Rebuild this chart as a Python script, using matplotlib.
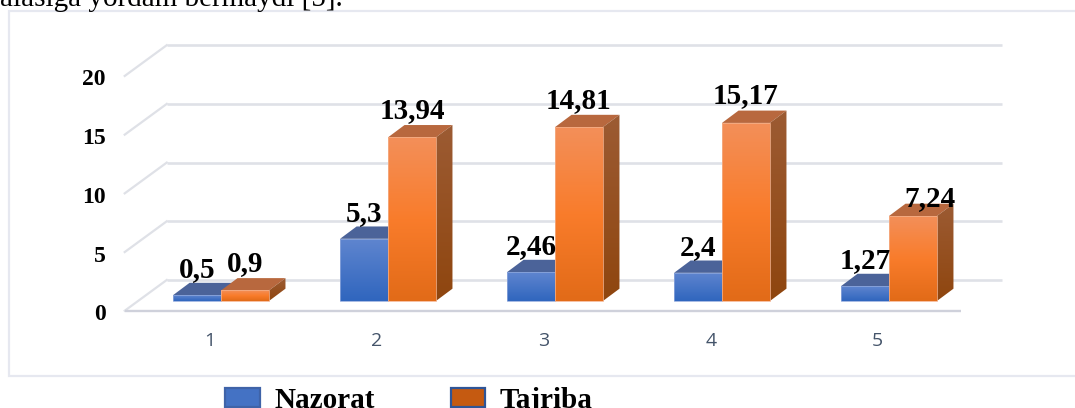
import matplotlib.pyplot as plt
import numpy as np
from matplotlib.colors import LinearSegmentedColormap
from matplotlib.patches import Patch, Polygon, Rectangle

categories = [1, 2, 3, 4, 5]
nazorat = [0.5, 5.3, 2.46, 2.4, 1.27]
tajriba = [0.9, 13.94, 14.81, 15.17, 7.24]
y_ticks = [0, 5, 10, 15, 20]
series_names = ["Nazorat", "Tajriba"]
header = "alasiga yordam bermaydi [5]."

serif = "Liberation Serif"
bar_w = 0.287
depth_x = 0.099
depth_y = 1.05
floor_front = -0.83
floor_back = 1.79

blue_front = LinearSegmentedColormap.from_list("b", ["#3066BE", "#5F85CF"])
orange_front = LinearSegmentedColormap.from_list("o", ["#E26B18", "#F97C2B", "#F38F59"])
orange_side = LinearSegmentedColormap.from_list("s", ["#8F460F", "#9C5B33"])
gradient = np.linspace(1, 0, 64).reshape(-1, 1)


def draw_face(ax, left, width, value, cmap, z):
    face = Rectangle((left, 0), width, value, fc="none", ec="none", zorder=z)
    ax.add_patch(face)
    im = ax.imshow(gradient, cmap=cmap, aspect="auto", zorder=z,
                   extent=(left, left + width, 0, value))
    im.set_clip_path(face)
    ax.add_patch(Rectangle((left, 0), width, value, fc="none", ec="#F4B08A" if cmap is orange_front else "#8FA8DC",
                           lw=0.7, alpha=0.8, zorder=z + 0.1))


def draw_bar(ax, left, value, cmap, top_color, z):
    top = [(left, value), (left + bar_w, value),
           (left + bar_w + depth_x, value + depth_y), (left + depth_x, value + depth_y)]
    ax.add_patch(Polygon(top, fc=top_color, ec="none", zorder=z))
    side = Polygon([(left + bar_w, 0), (left + bar_w + depth_x, depth_y),
                    (left + bar_w + depth_x, value + depth_y), (left + bar_w, value)],
                   fc="none", ec="none", zorder=z)
    ax.add_patch(side)
    im = ax.imshow(gradient, cmap=orange_side, aspect="auto", zorder=z,
                   extent=(left + bar_w, left + bar_w + depth_x, 0, value + depth_y))
    im.set_clip_path(side)
    draw_face(ax, left, bar_w, value, cmap, z + 0.2)


fig = plt.figure(figsize=(10.75, 4.08), dpi=100)
ax = fig.add_axes([0, 0, 1, 1])
ax.axis("off")

# outer frame of the chart
ax.add_patch(Rectangle((9 / 1075, 1 - 376 / 408), 1.02, 365 / 408, transform=ax.transAxes,
                       fc="white", ec="#E6E8F0", lw=1.6, zorder=0))

for v in y_ticks:
    ax.plot([0.675, 5.677], [floor_back + v] * 2, color="#DFE1E7", lw=1.9, zorder=1, solid_capstyle="butt")
    ax.plot([0.4234, 0.675], [floor_front + v, floor_back + v], color="#DFE1E7", lw=1.6, zorder=1)
    ax.text(0.31, floor_front + v - 0.34, str(v), family=serif, weight="bold", fontsize=17,
            ha="right", va="center", color="black")
ax.plot([0.4234, 5.431], [floor_front] * 2, color="#CFD1DB", lw=1.7, zorder=1, solid_capstyle="butt")

for c, a, b in zip(categories, nazorat, tajriba):
    draw_bar(ax, c - bar_w, a, blue_front, "#4B6399", 2)
    draw_bar(ax, c, b, orange_front, "#B8683E", 3)
    ax.text(c - 0.067, floor_front - 2.55, str(c), family="Open Sans", fontsize=14, color="#44546A",
            ha="center", va="center")

for c, a, b in zip(categories, nazorat, tajriba):
    ax.text(c - bar_w / 2, a + 1.55, str(a).replace(".", ","), family=serif, weight="bold", fontsize=21,
            ha="center", va="baseline", color="black", zorder=6)
    shift = (0.1, -0.68) if b == 7.24 else (0, 0.1)
    ax.text(c + bar_w / 2 + shift[0], b + 1.55 + shift[1], str(b).replace(".", ","), family=serif, weight="bold",
            fontsize=21, ha="center", va="baseline", color="black", zorder=6)

ax.set_xlim(-0.3234, 6.1138)
ax.set_ylim(-9.114, 25.64)

ax.text(0, 1 - 6 / 408, header, transform=ax.transAxes, family=serif, fontsize=21, va="baseline", ha="left")

handles = [Patch(fc="#4472C4", ec="#3F63A8", lw=1.6), Patch(fc="#C55A11", ec="#2F5597", lw=1.6)]
ax.legend(handles, series_names, loc="lower left", bbox_to_anchor=(225 / 1075, -6 / 408), ncol=2, frameon=False,
          borderpad=0, borderaxespad=0, handlelength=1.19, handleheight=0.62, handletextpad=0.5, columnspacing=2.6,
          prop={"family": serif, "weight": "bold", "size": 21})

fig.savefig("out.png", dpi=100)
